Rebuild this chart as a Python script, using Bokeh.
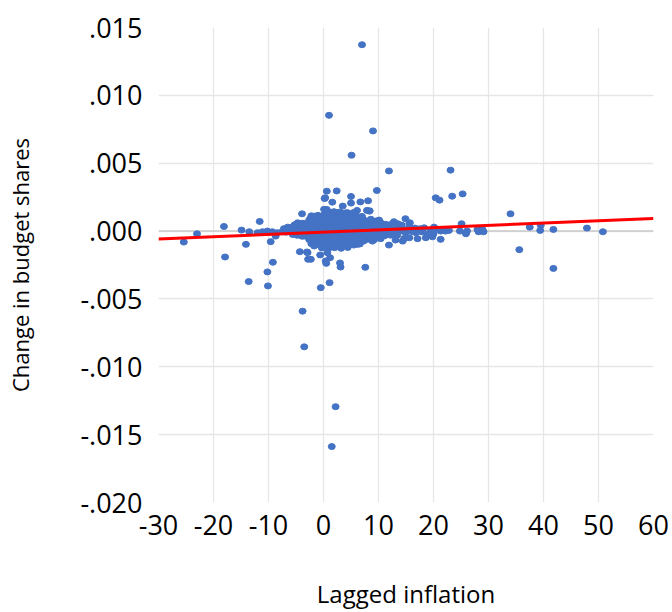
from bokeh.plotting import figure
from bokeh.models import FixedTicker, Span, CustomJSTickFormatter, ColumnDataSource
from bokeh.embed import file_html
from bokeh.resources import INLINE

# ---- data (lagged inflation, change in budget shares) ----
x_outer = [7.0, 1.0, 9.0, 5.1, 11.9, 23.1, 0.6, 2.4, 5.0, 9.7,
           0.2, 1.6, 3.5, 5.0, 6.7, 8.1, -3.9, 6.1, 8.4, 4.4,
           0.6, 20.4, 21.1, 23.4, 25.3, 34.0, 14.9, 37.5, 39.5, 39.4,
           41.8, 47.9, 50.8, 35.6, 41.8, 25.1, 24.8, 26.1, 25.9, 28.0,
           28.9, 28.2, 29.1, 19.5, 20.1, 22.2, 22.8, 21.3, 20.0, 16.8,
           18.9, 15.7, -18.1, -23.0, -25.4, -14.9, -13.5, -11.6, -14.1, -17.9,
           -9.6, -9.2, -10.2, -13.6, -10.1, -0.5, 1.1, 7.6, 3.0, 3.1,
           0.5, -4.3, -2.9, -2.8, -2.3, -0.6, 5.5, 7.3, 9.2, 11.9,
           14.7, -3.8, -3.5, 2.2, 1.5, -12.0, -11.1, -10.2, -9.3, -8.4,
           -7.5, -6.5, -5.9, -5.3, -8.7, 0.3, 7.9, 0.1, 0.7, 1.6,
           2.5, 4.1, 4.4, -1.7, -0.8, -2.3, -4.7, -3.5, 6.8, 7.7,
           5.6, 8.3, 9.5, 10.4, 12.8, 13.5, 15.6, 18.3, 20.1, -5.6,
           -3.5, -3.0, 0.1, 0.7, 1.2, 0.4, 2.5, 3.7, 5.0, 6.2,
           7.1, 8.3, -1.7, -0.8, 1.3, 8.0, 8.9, 10.4, 13.1, 14.4,
           15.6, 17.1, 18.6, 19.8, 21.3]
y_outer = [0.01373, 0.00853, 0.00738, 0.00559, 0.00443, 0.00449, 0.00294, 0.00296, 0.00255, 0.00299,
           0.00240, 0.00213, 0.00184, 0.00206, 0.00215, 0.00223, 0.00127, 0.00152, 0.00149, 0.00135,
           0.00159, 0.00245, 0.00228, 0.00257, 0.00274, 0.00127, 0.00091, 0.00029, 0.00042, 0.00005,
           0.00012, 0.00022, -0.00005, -0.00137, -0.00275, 0.00054, 0.00000, 0.00000, -0.00020, 0.00012,
           0.00012, -0.00005, -0.00005, 0.00000, 0.00012, 0.00000, 0.00005, 0.00000, -0.00020, -0.00012,
           -0.00025, 0.00061, 0.00034, -0.00020, -0.00081, 0.00007, -0.00005, 0.00071, -0.00098, -0.00191,
           -0.00078, -0.00230, -0.00301, -0.00372, -0.00404, -0.00417, -0.00380, -0.00267, -0.00235, -0.00265,
           -0.00238, -0.00152, -0.00159, -0.00208, -0.00208, -0.00176, -0.00103, -0.00074, -0.00064, -0.00103,
           -0.00054, -0.00590, -0.00853, -0.01294, -0.01588, -0.00012, -0.00005, 0.00000, -0.00005, -0.00012,
           -0.00005, 0.00029, 0.00012, 0.00044, -0.00037, 0.00245, 0.00152, 0.00160, 0.00147, 0.00135,
           0.00135, 0.00135, 0.00110, 0.00110, 0.00098, 0.00098, 0.00061, 0.00054, 0.00074, 0.00061,
           0.00098, 0.00147, 0.00074, 0.00061, 0.00069, 0.00054, 0.00054, 0.00024, 0.00029, -0.00025,
           -0.00037, -0.00154, -0.00110, -0.00159, -0.00196, -0.00220, -0.00110, -0.00086, -0.00074, -0.00098,
           -0.00061, -0.00049, -0.00110, -0.00086, -0.00074, -0.00061, -0.00074, -0.00056, -0.00066, -0.00074,
           -0.00049, -0.00056, -0.00049, -0.00042, -0.00061]

x_core = [-2.6, -1.4, -0.3, 0.9, 1.8, 2.9, 3.8, 4.9, 6.3, 7.4, 8.6, 10.1,
          -5.1, -3.8, -2.7, -1.6, -0.6, 0.4, 1.3, 2.2, 3.3, 4.2, 5.3, 6.4, 7.6, 8.8, 10.2, 11.3, 12.1, 14.2,
          -7.2, -6.1, -4.6, -3.4, -2.3, -1.2, -0.2, 0.7, 1.6, 2.6, 3.5, 4.5, 5.6, 6.6, 7.7, 8.7, 9.8, 10.9,
          12.0, 13.2, 14.3, 15.5, 16.6, 17.5,
          -6.8, -5.4, -4.2, -3.1, -2.0, -1.0, 0.0, 0.9, 1.9, 2.8, 3.8, 4.8, 5.9, 7.0, 8.1, 9.2, 10.3, 11.4,
          12.6, 13.7, 14.9, 16.1, 17.9,
          -4.8, -3.9, -2.5, -1.5, -0.5, 0.5, 1.4, 2.3, 3.4, 4.4, 5.5, 6.5, 7.6, 9.0, 10.0, 11.1, 12.2, 13.4,
          -2.6, -1.5, -0.4, 0.6, 1.7, 2.9, 4.1, 5.9, 6.7,
          -1.0, 1.1, 2.9, 5.0,
          -2.2, 0.0, 2.0, 3.9, 6.0, 7.0,
          0.5, 1.9, 3.0, 5.5,
          -2.2, -1.0, 0.2, 1.4, 2.6, 3.8, 5.0, 6.6,
          -0.3, 0.9, 2.0, 3.2, 4.4]
y_core = [0.00082, 0.00088, 0.00079, 0.00090, 0.00084, 0.00081, 0.00089, 0.00083, 0.00086, 0.00080, 0.00087, 0.00081,
          0.00049, 0.00058, 0.00052, 0.00057, 0.00051, 0.00056, 0.00053, 0.00059, 0.00050, 0.00055, 0.00058, 0.00051,
          0.00054, 0.00049, 0.00056, 0.00050, 0.00047, 0.00044,
          0.00018, 0.00024, 0.00021, 0.00027, 0.00022, 0.00026, 0.00029, 0.00023, 0.00028, 0.00024, 0.00027, 0.00021,
          0.00026, 0.00030, 0.00022, 0.00025, 0.00028, 0.00023, 0.00026, 0.00021, 0.00024, 0.00019, 0.00022, 0.00017,
          -0.00008, -0.00003, -0.00009, -0.00002, -0.00007, -0.00004, -0.00010, -0.00001, -0.00006, -0.00009, -0.00003,
          -0.00008, -0.00002, -0.00006, -0.00009, -0.00004, -0.00007, -0.00002, -0.00008, -0.00005, -0.00010, -0.00003,
          -0.00006,
          -0.00031, -0.00038, -0.00033, -0.00040, -0.00035, -0.00041, -0.00032, -0.00037, -0.00042, -0.00034, -0.00039,
          -0.00031, -0.00036, -0.00033, -0.00029, -0.00035, -0.00030, -0.00032,
          -0.00063, -0.00068, -0.00061, -0.00070, -0.00064, -0.00067, -0.00059, -0.00066, -0.00062,
          0.00116, 0.00121, 0.00113, 0.00118,
          0.00112, 0.00117, 0.00114, 0.00119, 0.00111, 0.00108,
          0.00139, 0.00143, 0.00141, 0.00137,
          -0.00093, -0.00097, -0.00091, -0.00099, -0.00094, -0.00096, -0.00090, -0.00095,
          -0.00124, -0.00128, -0.00122, -0.00127, -0.00121]

fit_x = [-30, 60]
fit_y = [-0.00059, 0.00093]

x_ticks = [-30, -20, -10, 0, 10, 20, 30, 40, 50, 60]
y_ticks = [-0.020, -0.015, -0.010, -0.005, 0.000, 0.005, 0.010, 0.015]

FONT = "Open Sans"

p = figure(width=672, height=612, x_range=(-30, 60), y_range=(-0.020, 0.015),
           output_backend="svg", toolbar_location=None,
           min_border_left=158, min_border_right=19, min_border_top=27, min_border_bottom=109)
p.outline_line_color = None

p.xaxis.ticker = FixedTicker(ticks=x_ticks)
p.yaxis.ticker = FixedTicker(ticks=y_ticks)
p.xgrid.ticker = FixedTicker(ticks=x_ticks[1:-1])
p.ygrid.ticker = FixedTicker(ticks=y_ticks[1:-1])
p.grid.grid_line_color = "#E6E6E6"
p.grid.grid_line_width = 1.3

p.xaxis.formatter = CustomJSTickFormatter(code="return String(Math.round(tick));")
p.yaxis.formatter = CustomJSTickFormatter(code="""
const a = Math.abs(tick).toFixed(3).replace(/^0/, '');
return (tick < -1e-9 ? '-' : '') + a;
""")

for ax in (p.xaxis[0], p.yaxis[0]):
    ax.axis_line_color = None
    ax.major_tick_line_color = None
    ax.minor_tick_line_color = None
    ax.major_label_text_font = FONT
    ax.major_label_text_font_size = "27px"
    ax.major_label_text_color = "#000000"
    ax.axis_label_text_font = FONT
    ax.axis_label_text_font_style = "normal"
    ax.axis_label_text_color = "#000000"

p.xaxis.axis_label = "Lagged inflation"
p.yaxis.axis_label = "Change in budget shares"
p.xaxis.axis_label_text_font_size = "24px"
p.yaxis.axis_label_text_font_size = "22px"
p.xaxis.major_label_standoff = 6
p.yaxis.major_label_standoff = 10
p.xaxis.axis_label_standoff = 39
p.yaxis.axis_label_standoff = 42

zero = Span(location=0, dimension="width", line_color="#C8C8C8", line_width=1.5, level="underlay")
p.add_layout(zero)

src = ColumnDataSource(dict(x=x_outer + x_core, y=y_outer + y_core))
p.ellipse(x="x", y="y", width=7, height=6, width_units="screen", height_units="screen",
          source=src, fill_color="#4472C4", line_color="#4472C4")

p.line(fit_x, fit_y, line_color="#FF0000", line_width=3)

open("out.html", "w").write(file_html(p, INLINE))
